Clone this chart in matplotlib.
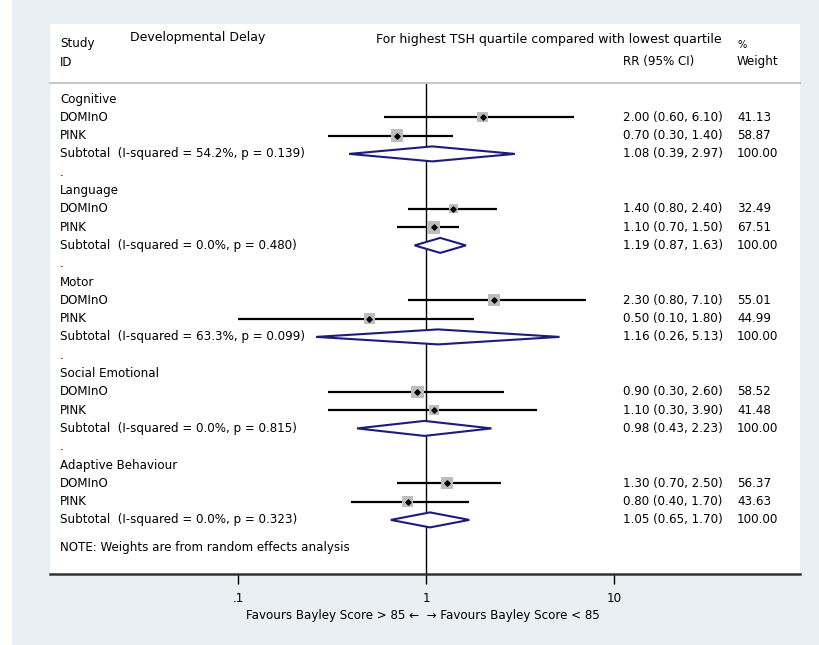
import matplotlib
matplotlib.use('Agg')
import numpy as np
import matplotlib.pyplot as plt
from matplotlib.patches import Rectangle

plt.rcParams['font.family'] = ['DejaVu Sans']

# data
groups = ['Cognitive', 'Language', 'Motor', 'Social Emotional', 'Adaptive Behaviour']
studies = ['DOMInO', 'PINK']
est = [[2.00, 0.70], [1.40, 1.10], [2.30, 0.50], [0.90, 1.10], [1.30, 0.80]]
lo = [[0.60, 0.30], [0.80, 0.70], [0.80, 0.10], [0.30, 0.30], [0.70, 0.40]]
hi = [[6.10, 1.40], [2.40, 1.50], [7.10, 1.80], [2.60, 3.90], [2.50, 1.70]]
weights = [[41.13, 58.87], [32.49, 67.51], [55.01, 44.99], [58.52, 41.48], [56.37, 43.63]]
sub_est = [1.08, 1.19, 1.16, 0.98, 1.05]
sub_lo = [0.39, 0.87, 0.26, 0.43, 0.65]
sub_hi = [2.97, 1.63, 5.13, 2.23, 1.70]
i2 = ['54.2%', '0.0%', '63.3%', '0.0%', '0.0%']
pval = ['0.139', '0.480', '0.099', '0.815', '0.323']
xticks = [0.1, 1, 10]
xticklabels = ['.1', '1', '10']

W, H = 819, 645
bg = '#e8f0f3'
navy = '#1c1c7c'
fs = 8.6

fig = plt.figure(figsize=(W / 100, H / 100), dpi=100)
fig.patch.set_facecolor(bg)
fig.add_artist(Rectangle((0, 0), 12 / W, 1, transform=fig.transFigure,
                         facecolor='white', edgecolor='none', zorder=0))

ax = fig.add_axes([50 / W, 1 - 574 / H, 750 / W, 550 / H])
ax.set_facecolor('white')

ROW0, DY = 99, 18.3
def row(py):
    return (py - ROW0) / DY

ax.set_xscale('log')
ax.set_xlim(10 ** -2, 10 ** (374 / 188))
ax.set_ylim(row(574), row(24))

tr = ax.get_yaxis_transform()
def fx(px):
    return (px - 50) / 750.0

# headers
ax.text(fx(60), row(43), 'Study', transform=tr, fontsize=fs, va='center')
ax.text(fx(60), row(62), 'ID', transform=tr, fontsize=fs, va='center')
ax.text(fx(130), row(37), 'Developmental Delay', transform=tr, fontsize=fs + 0.4, va='center')
ax.text(fx(722), row(40), 'For highest TSH quartile compared with lowest quartile',
        transform=tr, fontsize=fs + 0.4, va='center', ha='right')
ax.text(fx(623), row(62), 'RR (95% CI)', transform=tr, fontsize=fs, va='center')
ax.text(fx(737), row(45), '%', transform=tr, fontsize=fs - 1.5, va='center')
ax.text(fx(737), row(62), 'Weight', transform=tr, fontsize=fs, va='center')

ax.plot([0, 1], [row(83), row(83)], transform=tr, color='#c8c8c8', lw=1.5, clip_on=False)
ax.plot([1, 1], [row(83), row(574)], color='black', lw=1.0, zorder=1)

r = 0
for g in range(len(groups)):
    if g > 0:
        ax.text(fx(60), r, '.', transform=tr, fontsize=fs, va='center')
        r += 1
    ax.text(fx(60), r, groups[g], transform=tr, fontsize=fs, va='center')
    r += 1
    for s in range(len(studies)):
        ax.text(fx(60), r, studies[s], transform=tr, fontsize=fs, va='center')
        ax.hlines(r, lo[g][s], hi[g][s], color='black', lw=1.6, zorder=2)
        side = 1.6 * np.sqrt(weights[g][s]) * 0.72
        ax.scatter([est[g][s]], [r], marker='s', s=side ** 2, color='#bdbdbd',
                   edgecolors='none', zorder=3)
        ax.scatter([est[g][s]], [r], marker='D', s=7, color='black', zorder=4)
        ax.text(fx(623), r, '%.2f (%.2f, %.2f)' % (est[g][s], lo[g][s], hi[g][s]),
                transform=tr, fontsize=fs, va='center')
        ax.text(fx(737), r, '%.2f' % weights[g][s], transform=tr, fontsize=fs, va='center')
        r += 1
    ax.text(fx(60), r, 'Subtotal  (I-squared = %s, p = %s)' % (i2[g], pval[g]),
            transform=tr, fontsize=fs, va='center')
    h = 7.5 / DY
    ax.fill([sub_lo[g], sub_est[g], sub_hi[g], sub_est[g]], [r, r - h, r, r + h],
            facecolor='white', edgecolor=navy, lw=1.5, zorder=3)
    ax.text(fx(623), r, '%.2f (%.2f, %.2f)' % (sub_est[g], sub_lo[g], sub_hi[g]),
            transform=tr, fontsize=fs, va='center')
    ax.text(fx(737), r, '100.00', transform=tr, fontsize=fs, va='center')
    r += 1

ax.text(fx(60), row(548), 'NOTE: Weights are from random effects analysis',
        transform=tr, fontsize=fs, va='center')

for sp in ['top', 'left', 'right']:
    ax.spines[sp].set_visible(False)
ax.spines['bottom'].set_color('#333333')
ax.spines['bottom'].set_linewidth(1.8)
ax.set_yticks([])
ax.set_xticks(xticks)
ax.set_xticklabels(xticklabels, fontsize=fs)
ax.minorticks_off()
ax.tick_params(axis='x', direction='out', length=7, width=1, pad=6)

fig.text(423 / W, 1 - 615 / H, 'Favours Bayley Score > 85 \u2190  \u2192 Favours Bayley Score < 85',
         fontsize=fs, ha='center', va='center')

plt.savefig('out.png', dpi=100, facecolor=fig.get_facecolor())
